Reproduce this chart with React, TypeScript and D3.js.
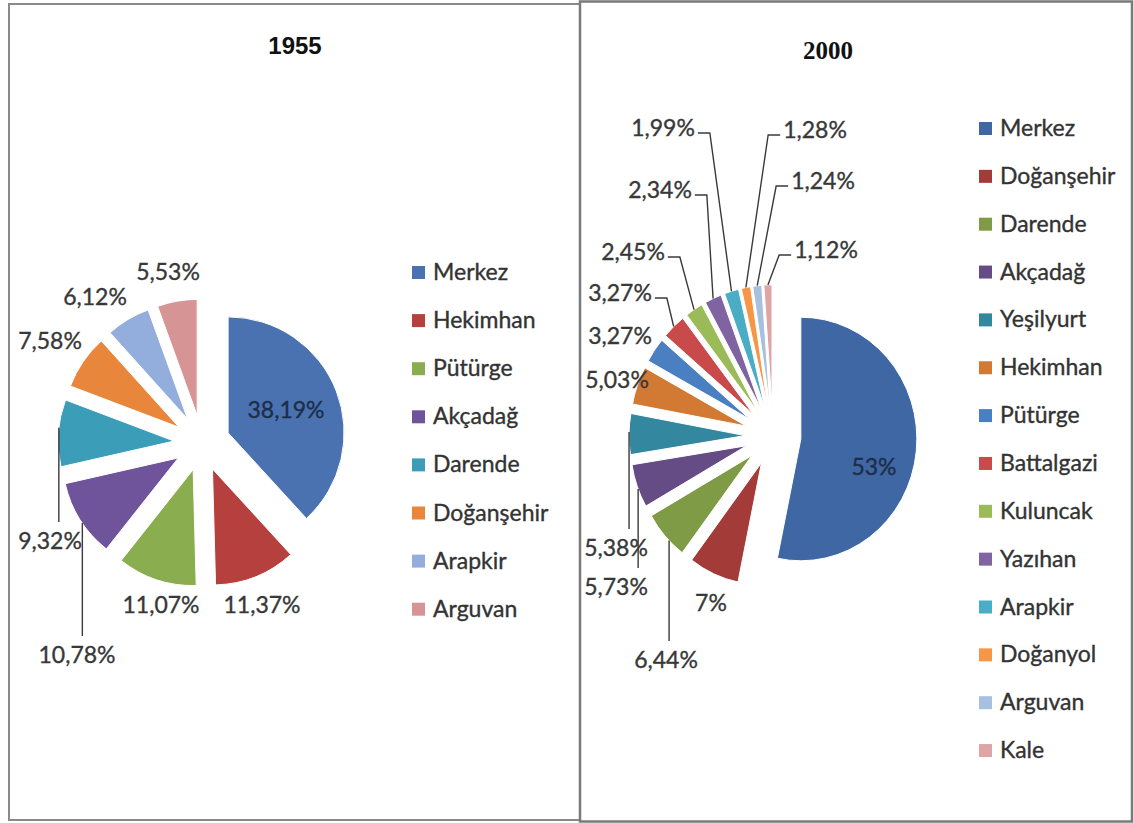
import React, { useEffect, useRef } from "react";
import * as d3 from "d3";

const W = 1134;
const H = 823;

// 1955 data
const names1955 = ["Merkez", "Hekimhan", "Pütürge", "Akçadağ", "Darende", "Doğanşehir", "Arapkir", "Arguvan"];
const values1955 = [38.19, 11.37, 11.07, 10.78, 9.32, 7.58, 6.12, 5.53];
const colors1955 = ["#4a72b0", "#b5403e", "#8aad4f", "#6f539b", "#3c9db8", "#e8873b", "#93aedc", "#d69494"];

// 2000 data
const names2000 = [
	"Merkez", "Doğanşehir", "Darende", "Akçadağ", "Yeşilyurt", "Hekimhan", "Pütürge",
	"Battalgazi", "Kuluncak", "Yazıhan", "Arapkir", "Doğanyol", "Arguvan", "Kale",
];
const values2000 = [53, 7, 6.44, 5.73, 5.38, 5.03, 3.27, 3.27, 2.45, 2.34, 1.99, 1.28, 1.24, 1.12];
const colors2000 = [
	"#3e67a3", "#a33b39", "#7f9b45", "#664c85", "#33879f", "#d27a33", "#4a7fc2",
	"#c94a4a", "#9bbb59", "#8064a2", "#4bacc6", "#f79646", "#a8c0e0", "#dfa5a5",
];

// label layout (text centres) and leader lines, kept apart from the data
const labelPos1955 = [[286, 410], [262, 605], [161, 605], [77, 655], [50, 541], [50, 341], [95, 297], [168, 272]];
const leaders1955 = [
	{ i: 3, type: "vertical", t: 0.45 },
	{ i: 4, type: "vertical", t: 0.58 },
];
const labelPos2000 = [
	[874, 467], [711, 603], [666, 660], [616, 587], [616, 548], [617, 380], [620, 336],
	[620, 293], [633, 252], [660, 190], [663, 128], [815, 130], [823, 181], [826, 250],
];
const leaders2000 = [
	{ i: 2, type: "vertical", t: 0.37 },
	{ i: 3, type: "vertical", t: 0.43 },
	{ i: 4, type: "vertical", t: 0.55 },
	{ i: 7, type: "left", t: 0.5 },
	{ i: 8, type: "left", t: 0.5 },
	{ i: 9, type: "left", t: 0.5 },
	{ i: 10, type: "left", t: 0.5 },
	{ i: 11, type: "right", t: 0.5 },
	{ i: 12, type: "right", t: 0.5 },
	{ i: 13, type: "right", t: 0.5 },
];

const FONT = "Lato, 'Open Sans', sans-serif";
const FS = 23;
const fmt = (v) => (Number.isInteger(v) ? `${v}%` : v.toFixed(2).replace(".", ",") + "%");

function drawPie(svg, cfg) {
	const { names, values, colors, cx, cy, r, sy, explode, labelPos, leaders, insideIdx, legendX, legendY, legendStep } = cfg;
	const g = svg.append("g");
	const pie = d3.pie().sort(null).value((d) => d);
	const arcs = pie(values);
	const arc = d3.arc().innerRadius(0).outerRadius(r);

	const off = (a) => {
		const m = (a.startAngle + a.endAngle) / 2;
		return [Math.sin(m) * explode, -Math.cos(m) * explode];
	};

	// slices, slightly stretched vertically like the source picture
	g.append("g")
		.attr("transform", `translate(${cx},${cy}) scale(1,${sy})`)
		.selectAll("path.slice")
		.data(arcs)
		.enter()
		.append("path")
		.attr("class", "slice")
		.attr("d", arc)
		.attr("transform", (a) => {
			const [dx, dy] = off(a);
			return `translate(${dx},${dy})`;
		})
		.attr("fill", (a, i) => colors[i])
		.attr("stroke", "#fff")
		.attr("stroke-width", 1)
		.attr("vector-effect", "non-scaling-stroke");

	const arcPoint = (a, t) => {
		const [dx, dy] = off(a);
		const ang = a.startAngle + t * (a.endAngle - a.startAngle);
		return [cx + dx + Math.sin(ang) * r, cy + (dy - Math.cos(ang) * r) * sy];
	};

	// labels
	const texts = g.selectAll("text.lbl")
		.data(arcs)
		.enter()
		.append("text")
		.attr("class", "lbl")
		.attr("x", (a, i) => labelPos[i][0])
		.attr("y", (a, i) => labelPos[i][1] + 8)
		.attr("text-anchor", "middle")
		.attr("font-family", FONT)
		.attr("font-size", FS)
		.attr("fill", (a, i) => (insideIdx.includes(i) ? "#1d2d4a" : "#383838"))
		.attr("stroke", (a, i) => (insideIdx.includes(i) ? "#1d2d4a" : "#383838"))
		.attr("stroke-width", 0.35)
		.text((a, i) => fmt(values[i]));

	const widths = [];
	texts.each(function () {
		widths.push(this.getComputedTextLength());
	});

	const line = d3.line();
	leaders.forEach((ld) => {
		const a = arcs[ld.i];
		const [lx, ly] = labelPos[ld.i];
		const p = arcPoint(a, ld.t);
		let pts;
		if (ld.type === "vertical") {
			pts = [p, [p[0], ly - 19]];
		} else if (ld.type === "left") {
			const x0 = lx + widths[ld.i] / 2 + 3;
			pts = [[x0, ly + 5], [x0 + 12, ly + 5], p];
		} else {
			const x0 = lx - widths[ld.i] / 2 - 3;
			pts = [[x0, ly + 5], [x0 - 12, ly + 5], p];
		}
		g.append("path")
			.attr("d", line(pts))
			.attr("fill", "none")
			.attr("stroke", "#3a3a3a")
			.attr("stroke-width", 1.4);
	});

	// legend
	const leg = g.selectAll("g.leg")
		.data(names)
		.enter()
		.append("g")
		.attr("class", "leg")
		.attr("transform", (d, i) => `translate(${legendX},${legendY + i * legendStep})`);
	leg.append("rect")
		.attr("x", 0)
		.attr("y", -6)
		.attr("width", 13)
		.attr("height", 13)
		.attr("fill", (d, i) => colors[i]);
	leg.append("text")
		.attr("x", 21)
		.attr("y", 8)
		.attr("font-family", FONT)
		.attr("font-size", FS)
		.attr("fill", "#333")
		.attr("stroke", "#333")
		.attr("stroke-width", 0.35)
		.text((d) => d);
}

export default function App() {
	const ref = useRef(null);

	useEffect(() => {
		const svg = d3.select(ref.current);
		svg.selectAll("*").remove();

		svg.append("rect").attr("width", W).attr("height", H).attr("fill", "#fff");

		// panel frames
		svg.append("rect")
			.attr("x", 9).attr("y", 4).attr("width", 571).attr("height", 816)
			.attr("fill", "none").attr("stroke", "#8a8a8a").attr("stroke-width", 2);
		svg.append("rect")
			.attr("x", 580).attr("y", 1.5).attr("width", 552).attr("height", 820)
			.attr("fill", "none").attr("stroke", "#7a7a7a").attr("stroke-width", 2.5);

		svg.append("text")
			.attr("x", 295).attr("y", 54)
			.attr("text-anchor", "middle")
			.attr("font-family", "'Liberation Sans', Arial, sans-serif")
			.attr("font-weight", "bold")
			.attr("font-size", 24)
			.attr("fill", "#111")
			.text("1955");
		svg.append("text")
			.attr("x", 828).attr("y", 59)
			.attr("text-anchor", "middle")
			.attr("font-family", "'Liberation Serif', 'Times New Roman', serif")
			.attr("font-weight", "bold")
			.attr("font-size", 25)
			.attr("fill", "#111")
			.text("2000");

		drawPie(svg, {
			names: names1955, values: values1955, colors: colors1955,
			cx: 202, cy: 443, r: 116, sy: 1, explode: 28,
			labelPos: labelPos1955, leaders: leaders1955, insideIdx: [0],
			legendX: 412, legendY: 272, legendStep: 48.1,
		});
		drawPie(svg, {
			names: names2000, values: values2000, colors: colors2000,
			cx: 773, cy: 436, r: 116, sy: 1.05, explode: 28,
			labelPos: labelPos2000, leaders: leaders2000, insideIdx: [0],
			legendX: 979, legendY: 128, legendStep: 47.85,
		});
	}, []);

	return <svg ref={ref} width={W} height={H} style={{ position: "absolute", left: 0, top: 0 }} />;
}
